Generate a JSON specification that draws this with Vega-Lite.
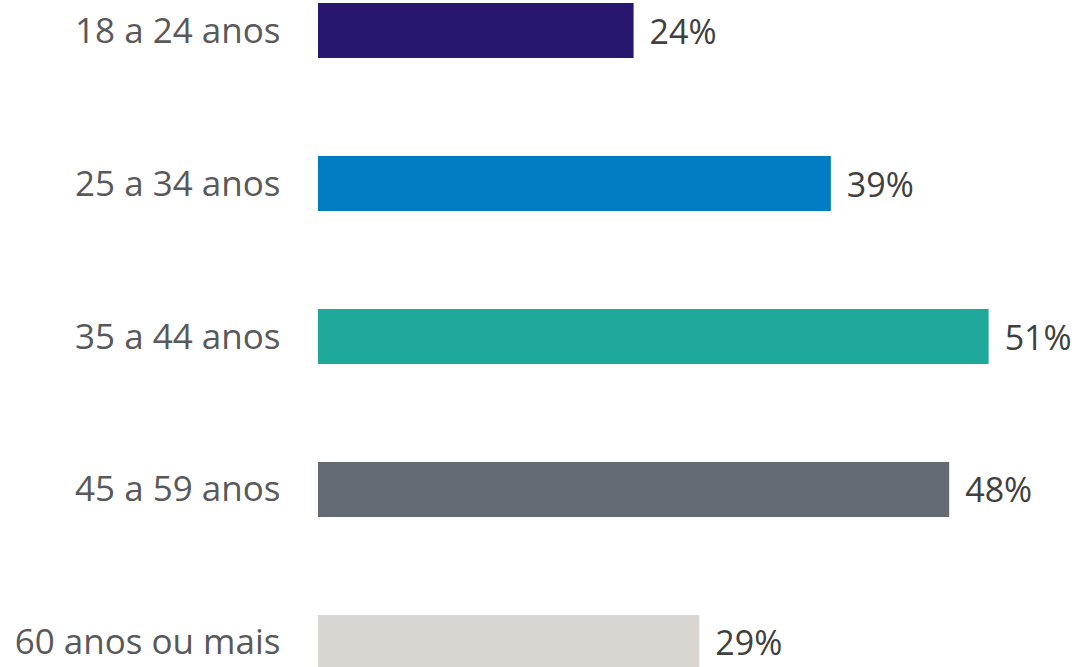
{
  "$schema": "https://vega.github.io/schema/vega-lite/v6.json",
  "autosize": "none",
  "width": 764,
  "height": 673,
  "padding": {"left": 318, "top": 0, "right": 0, "bottom": 0},
  "background": "white",
  "config": {"view": {"stroke": null}, "font": "Open Sans"},
  "data": {"values": [
    {"faixa": "18 a 24 anos", "valor": 24, "label": "24%"},
    {"faixa": "25 a 34 anos", "valor": 39, "label": "39%"},
    {"faixa": "35 a 44 anos", "valor": 51, "label": "51%"},
    {"faixa": "45 a 59 anos", "valor": 48, "label": "48%"},
    {"faixa": "60 anos ou mais", "valor": 29, "label": "29%"}
  ]},
  "encoding": {
    "y": {"field": "faixa", "type": "nominal", "sort": null,
      "scale": {"paddingInner": 0.6405, "paddingOuter": 0.0196},
      "axis": {"title": null, "domain": false, "ticks": false, "labelPadding": 38, "labelLimit": 0,
        "labelOffset": 1, "labelFontSize": 35, "labelColor": "#595959", "labelFont": "Open Sans"}},
    "x": {"field": "valor", "type": "quantitative",
      "scale": {"domain": [0, 58.1], "nice": false},
      "axis": null}
  },
  "layer": [
    {"mark": {"type": "bar"},
     "encoding": {"color": {"field": "faixa", "type": "nominal", "sort": null, "legend": null,
       "scale": {"range": ["#29176F", "#007CC3", "#1DA89A", "#646A71", "#D9D6D2"]}}}},
    {"mark": {"type": "text", "align": "left", "baseline": "middle", "dx": 16, "dy": 3,
       "fontSize": 34, "color": "#404040", "font": "Open Sans"},
     "encoding": {"text": {"field": "label"}}}
  ]
}
